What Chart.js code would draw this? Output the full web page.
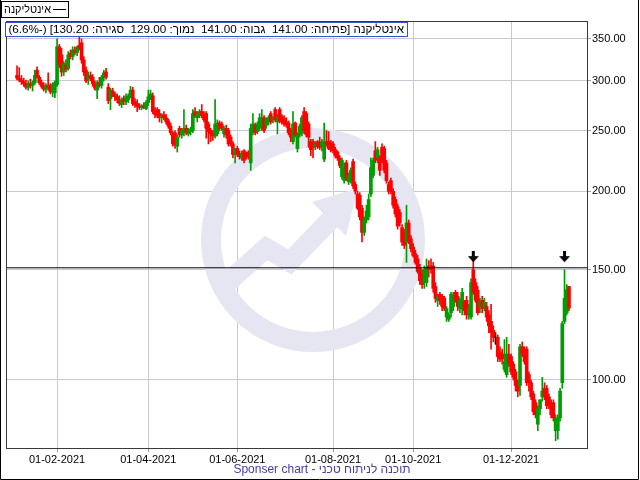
<!DOCTYPE html>
<html>
<head>
<meta charset="utf-8">
<script src="https://cdn.jsdelivr.net/npm/chart.js@4.4.1/dist/chart.umd.min.js"></script>
<style>
  html, body { margin: 0; padding: 0; background: #fff; }
  canvas { display: block; }
</style>
</head>
<body>
<canvas id="chart" width="640" height="480"></canvas>
<script>
// --- DATA (daily candles, index 0 = first trading day shown) ---
const openP = [
  306,303,301,299,297,293,297,295,298,312,
  304,298,294,291,295,293,288,287,296,340,
  330,310,318,314,332,328,336,333,342,345,
  324,312,302,306,304,297,290,298,295,304,
  310,293,281,289,285,283,279,275,281,278,
  280,284,290,278,276,273,272,273,271,277,
  283,284,268,270,266,262,265,262,259,254,
  247,248,236,252,246,248,252,247,249,250,
  268,262,265,268,265,266,256,250,247,245,
  247,257,256,247,252,250,244,238,229,234,
  230,226,232,229,231,222,248,255,249,253,
  252,262,255,258,266,260,270,258,270,263,
  261,258,257,250,240,257,234,246,248,268,
  266,256,240,240,236,240,238,236,225,240,
  240,239,238,233,231,226,211,208,222,207,
  208,223,205,198,197,188,172,180,182,198,
  212,232,226,226,235,234,222,205,208,200,
  194,189,185,175,172,166,178,168,163,159,
  156,151,148,143,143,152,152,152,141,134,
  137,136,135,126,125,128,131,138,136,130,
  130,133,134,127,126,150,143,139,131,134,
  131,131,127,124,120,117,117,111,110,104,
  102,110,109,106,103,99,98,113,112,112,
  102,99,95,92,85,90,94,97,97,94,
  92,92,83,83,87,99,124,128,141
];
const highP = [
  317,315,306,303,301,300,302,300,312,316,
  306,301,298,297,309,297,298,300,350,343,
  338,322,324,334,336,340,340,341,352,350,
  328,316,310,310,307,300,300,304,306,312,
  314,297,292,292,288,286,284,282,284,286,
  286,294,293,281,280,276,275,277,279,290,
  290,287,272,272,270,266,268,265,261,257,
  249,250,246,254,252,270,255,252,253,270,
  272,268,270,275,268,268,258,252,250,280,
  260,259,258,254,255,252,246,240,234,236,
  232,232,233,231,232,256,266,257,258,266,
  270,264,262,264,268,263,272,265,272,265,
  264,262,259,252,268,258,248,256,264,272,
  268,258,242,242,240,241,244,242,257,250,
  249,241,240,235,232,228,226,222,224,214,
  218,225,207,200,199,190,182,190,198,226,
  226,240,235,228,238,236,224,207,210,202,
  196,191,187,177,174,190,180,170,165,161,
  158,153,150,152,156,155,156,154,143,137,
  138,137,136,131,128,138,138,139,138,135,
  140,134,136,132,145,156,145,141,135,136,
  135,133,129,132,122,119,118,113,112,116,
  117,114,110,107,104,100,114,115,113,113,
  103,100,96,93,91,93,101,99,98,95,
  93,93,88,88,97,124,150,142,141
];
const lowP = [
  301,299,296,294,291,290,292,289,296,303,
  296,292,289,287,290,286,283,282,294,315,
  305,306,310,312,325,324,330,329,336,320,
  306,298,296,300,294,290,281,293,292,300,
  302,276,270,283,279,277,274,272,275,275,
  277,282,274,272,268,270,270,271,270,274,
  280,266,262,262,258,257,260,256,252,246,
  236,234,231,244,243,245,246,245,246,248,
  262,258,262,262,258,243,238,240,241,243,
  245,250,250,244,243,236,236,226,222,227,
  225,224,222,225,225,216,246,246,247,250,
  250,248,252,255,256,257,258,247,257,256,
  254,253,246,240,238,244,231,244,245,247,
  244,235,228,226,233,234,233,232,223,236,
  233,231,230,226,224,218,209,206,208,205,
  206,202,198,187,180,166,170,178,180,196,
  210,222,222,212,222,214,206,198,198,188,
  182,174,176,164,162,154,165,160,157,153,
  148,142,140,140,141,146,148,138,133,131,
  132,129,129,124,124,126,129,133,129,128,
  127,127,125,125,125,137,133,127,128,128,
  129,124,119,112,115,114,107,107,106,103,
  101,105,102,100,96,94,94.5,109,106,98,
  96,93,88,87,83,88,92.5,93,90,90,
  87,86,80,80.5,86,97,123,127,129
];
const closeP = [
  303,301,299,297,293,297,295,298,306,304,
  298,294,291,295,293,288,296,298,340,318,
  310,320,313,330,328,336,333,339,338,324,
  310,300,306,303,297,292,298,295,304,309,
  304,279,290,285,283,280,276,280,278,283,
  284,290,276,275,273,272,274,272,277,283,
  286,268,265,264,262,264,262,258,254,248,
  238,237,244,246,250,252,248,250,251,266,
  264,266,268,264,260,252,249,247,245,256,
  257,252,252,252,246,238,238,229,234,229,
  227,230,224,227,227,252,256,248,256,262,
  262,250,260,262,258,261,260,263,259,258,
  256,255,248,244,256,246,246,254,262,250,
  246,244,233,235,239,236,235,240,240,238,
  234,233,232,228,226,220,224,218,210,212,
  216,204,200,188,182,172,180,186,194,218,
  224,224,233,216,224,216,208,200,200,190,
  184,176,178,166,164,178,166,162,158,154,
  149,144,142,150,151,150,150,140,135,136,
  134,131,130,130,127,137,136,134,131,134,
  138,129,127,130,143,138,134,128,133,130,
  133,126,122,119,117,117,109,108,108,107,
  110,106,103,101,98,96,113,110,107,99,
  99,94,89,88,90,93,96,94,91,91,
  88,87,87,87,96,123,135,139.4,130.2
];

const monthTicks  = [18, 59, 99, 142, 178, 222];
const monthLabels = ['01-02-2021', '01-04-2021', '01-06-2021', '01-08-2021', '01-10-2021', '01-12-2021'];
const priceTicks  = [100, 150, 200, 250, 300, 350];

const levelPrice = 151;          // horizontal resistance line
const markIdx    = [205, 246];   // arrows over the two touches
const markPrice  = [157, 157];

const seriesName = 'אינטליקנה';
const headerText = 'אינטליקנה [פתיחה: 141.00  גבוה: 141.00  נמוך: 129.00  סגירה: 130.20] (-6.6%)';
const footerText = 'Sponser chart - תוכנה לניתוח טכני';

// --- SETUP ---
const UP = '#009c00', DOWN = '#ff0000', FLAT = '#000000';
const FONT = '"Liberation Sans", Arial, sans-serif';
const xMin = -4.5, xMax = 256.1;
const yMin = 77.9, yMax = 372.4;

function candleColor(i) {
  if (closeP[i] > openP[i]) return UP;
  if (closeP[i] < openP[i]) return DOWN;
  return FLAT;
}

const wickData = highP.map((h, i) => ({ x: i, y: [lowP[i], h] }));
const bodyData = openP.map((o, i) => ({ x: i, y: [o, closeP[i]] }));
const markData = markIdx.map((x, i) => ({ x: x, y: markPrice[i] }));

function makeArrow() {
  const c = document.createElement('canvas');
  c.width = 11; c.height = 12;
  const g = c.getContext('2d');
  g.fillStyle = '#000';
  g.fillRect(4, 0, 3, 6);
  g.beginPath();
  g.moveTo(0, 5); g.lineTo(11, 5); g.lineTo(5.5, 11); g.closePath();
  g.fill();
  return c;
}

// fit a string into a given width by shrinking the font
function fitFont(g, text, size, maxW) {
  g.font = size + 'px ' + FONT;
  const w = g.measureText(text).width;
  if (w > maxW) g.font = (size * maxW / w).toFixed(2) + 'px ' + FONT;
}

// watermark + frames + texts
const chrome = {
  id: 'chrome',
  beforeDatasetsDraw(chart) {
    const g = chart.ctx;
    g.save();
    g.fillStyle = '#e6e6f2';
    g.strokeStyle = '#e6e6f2';
    // ring
    g.lineWidth = 20;
    g.beginPath();
    g.arc(313, 240, 102, 0, Math.PI * 2);
    g.stroke();
    // rising arrow inside
    g.lineWidth = 20;
    g.lineJoin = 'miter';
    g.beginPath();
    g.moveTo(228, 282);
    g.lineTo(266, 248);
    g.lineTo(290, 262);
    g.lineTo(332, 218);
    g.stroke();
    g.beginPath();
    g.moveTo(358, 188);
    g.lineTo(312, 202);
    g.lineTo(346, 236);
    g.closePath();
    g.fill();
    g.restore();
  },
  afterDraw(chart) {
    const g = chart.ctx, a = chart.chartArea;
    g.save();
    // plot frame
    g.strokeStyle = '#3a3a3a';
    g.lineWidth = 1;
    g.strokeRect(a.left - 0.5, a.top - 0.5, a.right - a.left + 1, a.bottom - a.top + 1);
    // outer frame (left, right, bottom)
    g.strokeStyle = '#000';
    g.beginPath();
    g.moveTo(0.5, 0); g.lineTo(0.5, 479.5); g.lineTo(638.5, 479.5); g.lineTo(638.5, 0);
    g.stroke();

    // legend box
    g.textBaseline = 'middle';
    g.fillStyle = '#fff';
    g.fillRect(2, 2, 66, 15);
    g.strokeStyle = '#000';
    g.strokeRect(1.5, 1.5, 67, 16);
    g.direction = 'rtl';
    g.textAlign = 'right';
    g.fillStyle = '#000';
    fitFont(g, seriesName, 11, 47);
    g.fillText(seriesName, 51, 10);
    g.beginPath();
    g.moveTo(53, 9.5); g.lineTo(66, 9.5);
    g.stroke();

    // header box with last candle values
    g.fillStyle = '#fff';
    g.fillRect(5, 22, 403, 15);
    g.strokeStyle = '#2f56c8';
    g.strokeRect(5.5, 22.5, 402, 14);
    g.fillStyle = '#000';
    fitFont(g, headerText, 12, 396);
    g.fillText(headerText, 404, 30);

    // footer
    g.direction = 'ltr';
    g.textAlign = 'center';
    g.fillStyle = '#4b3aa6';
    g.font = '12px ' + FONT;
    g.fillText(footerText, 322, 470);
    g.restore();
  }
};

new Chart(document.getElementById('chart'), {
  type: 'bar',
  data: {
    datasets: [
      {
        type: 'line',
        data: [{ x: xMin, y: levelPrice }, { x: xMax, y: levelPrice }],
        borderColor: '#000', borderWidth: 1, pointRadius: 0, order: 0
      },
      {
        type: 'line',
        data: markData,
        showLine: false,
        pointStyle: makeArrow(),
        pointRadius: 6,
        order: 0
      },
      {
        data: bodyData,
        grouped: false,
        barThickness: 3,
        backgroundColor: ctx => candleColor(ctx.dataIndex),
        borderWidth: 0,
        order: 1
      },
      {
        data: wickData,
        grouped: false,
        barThickness: 1,
        backgroundColor: ctx => candleColor(ctx.dataIndex),
        borderWidth: 0,
        order: 2
      }
    ]
  },
  options: {
    responsive: false,
    animation: false,
    events: [],
    layout: { padding: { left: 6, top: 22, right: 0, bottom: 0 } },
    plugins: { legend: { display: false }, tooltip: { enabled: false } },
    scales: {
      x: {
        type: 'linear',
        min: xMin, max: xMax,
        offset: false,
        afterBuildTicks: s => { s.ticks = monthTicks.map(v => ({ value: v })); },
        afterFit: s => { s.height = 32; },
        ticks: {
          callback: (v, i) => monthLabels[i],
          color: '#000', font: { family: FONT, size: 11 },
          padding: 1, maxRotation: 0, autoSkip: false
        },
        grid: { color: '#c9c9d6', tickLength: 4, tickColor: '#9a9aa8', offset: false },
        border: { color: '#3a3a3a' }
      },
      y: {
        type: 'logarithmic',
        position: 'right',
        min: yMin, max: yMax,
        afterBuildTicks: s => { s.ticks = priceTicks.map(v => ({ value: v })); },
        afterFit: s => { s.width = 53; },
        ticks: {
          callback: v => Number(v).toFixed(2),
          color: '#000', font: { family: FONT, size: 11 },
          padding: 1
        },
        grid: { color: '#c9c9d6', tickLength: 4, tickColor: '#9a9aa8' },
        border: { color: '#3a3a3a' }
      }
    }
  },
  plugins: [chrome]
});
</script>
</body>
</html>
